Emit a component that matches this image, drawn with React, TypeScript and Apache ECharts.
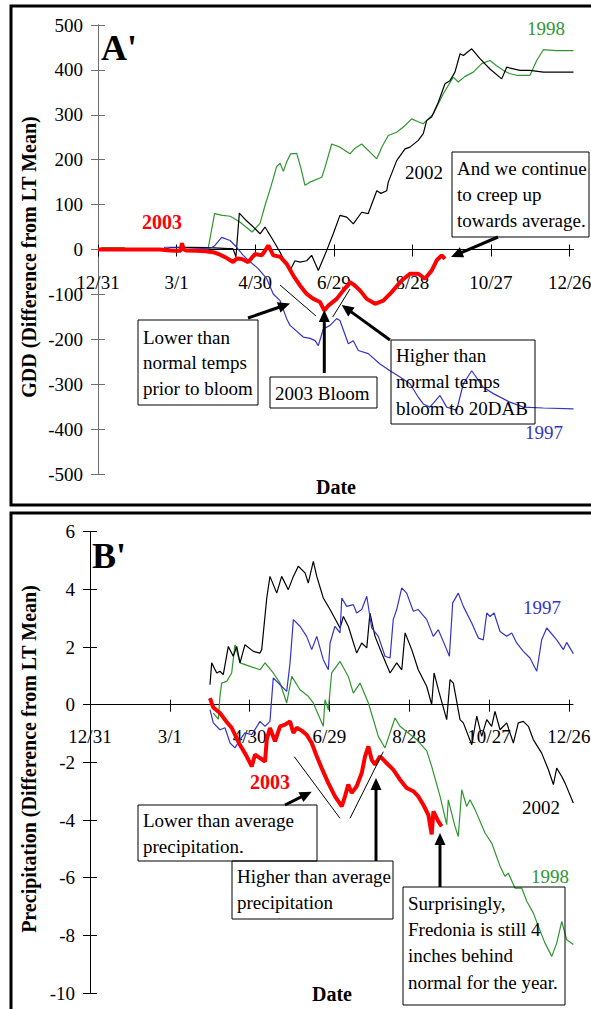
import React, { useEffect, useRef } from "react";
import * as echarts from "echarts";

// ---------- data ----------
const tickDays = [0, 60, 120, 180, 240, 300, 360];
const tickLabels = ["12/31", "3/1", "4/30", "6/29", "8/28", "10/27", "12/26"];
const gddTicks = [-500, 500, 100];
const precipTicks = [-10, 6, 2];

// GDD difference from LT mean: [day, value]
const gdd1998 = [
  [0, 0], [3, 4], [20, 4], [22, 0], [60, 0], [84, 1], [89, 80], [95, 76], [101, 74], [108, 62],
  [113, 50], [117.6, 39], [123.7, 58], [127.5, 98], [132, 140], [136.4, 185], [139, 192], [141.5, 174],
  [144, 195], [147, 213], [151.7, 214], [155, 180], [158, 143], [161.8, 150], [170.8, 161], [173.3, 183],
  [178.4, 235], [184.7, 228], [192.4, 213], [196, 225], [201.3, 235], [207.6, 217], [212.8, 202],
  [217, 230], [221.6, 254], [228, 261], [234, 275], [239.5, 291], [244, 285], [248.3, 280], [256, 302],
  [263.6, 347], [271.2, 384], [275, 373], [280, 385], [286.5, 395], [292.9, 414], [299.2, 421],
  [304, 410], [309.4, 399], [314, 392], [319.6, 388], [325, 388], [329.8, 388], [334.9, 421],
  [340, 445], [350, 443], [363, 443],
];
const gdd2002 = [
  [0, 0], [50, 0], [55, 4], [70, 5], [85, 4], [100, 2], [103, 2], [105.3, -16], [107.9, 81], [113, 65],
  [118.6, 50], [123.7, 35], [127.5, 50], [130, 38], [133.8, 20], [139, -6], [143, -30], [146.6, -47],
  [150.4, -25], [154.2, -28], [159.3, -25], [163.1, -13], [168.2, -47], [174.6, -2], [179.6, 35],
  [184.7, 76], [189.9, 72], [194.9, 57], [201.3, 83], [206.3, 80], [212.8, 131], [216, 125],
  [220.4, 131], [221.6, 150], [228, 198], [234.4, 224], [238.2, 228], [244.5, 243], [248.3, 258],
  [250.9, 287], [254.7, 295], [259.8, 328], [264.9, 369], [268.7, 376], [272.5, 395], [276.4, 436],
  [278.9, 432], [285.3, 447], [291.6, 425], [299.2, 402], [308.2, 380], [312, 406], [322.2, 399],
  [329.8, 399], [340, 395], [363, 395],
];
const gdd1997 = [
  [0, 0], [50, 0], [51, 5], [62, 5], [64, 0], [86, 3], [89.3, 9], [94.4, 27], [100.8, 20], [105.9, 5],
  [110.9, -13], [114.7, -24], [122.1, -42], [128.8, -65], [133.8, -99], [139, -114], [144, -154],
  [146.6, -169], [156.7, -195], [162, -198], [165.7, -203], [168.2, -214], [172, -177], [177.1, -169],
  [182.2, -154], [184.7, -158], [191.1, -210], [194.9, -203], [198.7, -225], [206.3, -232],
  [215.3, -255], [222.9, -270], [230.5, -284], [238.2, -299], [244.5, -329], [248.3, -344],
  [253.4, -351], [261.1, -325], [266.2, -351], [273.8, -358], [278.9, -299], [285.3, -270],
  [294.1, -307], [301.8, -321], [314.5, -340], [324.7, -351], [340, -353], [363, -355],
];
const gdd2003 = [
  [0, 0], [47, 0], [55, -2], [60, -3], [63, -3], [64.1, 14], [65.5, 0], [67.2, -2], [75.5, -3],
  [82, -4], [87.8, -6], [92, -10], [97, -17], [103.1, -28], [106, -20], [109.7, -21], [114.7, -28],
  [119.9, -10], [125, -13], [127, -5], [130, 9], [133.8, -13], [139, -16], [144, -32], [149.1, -58],
  [154.2, -80], [159.3, -99], [164.4, -110], [169.5, -117], [172.8, -136], [175.8, -125],
  [182.2, -110], [187.3, -91], [192.4, -73], [196, -80], [200, -91], [205.1, -110], [211.5, -121],
  [217.8, -114], [224.2, -95], [231.8, -69], [238.2, -54], [244.5, -54], [249.6, -65], [254.7, -47],
  [258.6, -24], [262.4, -13], [264.9, -21],
];

// Precipitation difference from LT mean: [day, value]
const prec1998 = [
  [92.7, -0.29], [96.5, -0.5], [97.7, 0.29], [99, 0.75], [102.8, 0.81], [106.5, 1.1], [109, 2.08],
  [112.8, 1.45], [120.3, 1.33], [127.8, 1.21], [131.6, 1.45], [137.8, 1.1], [142.9, 0.75],
  [147.9, 0.06], [151.7, 0.98], [157.9, 0.52], [164.1, 0.29], [167.9, 0.06], [175.4, -0.75],
  [176.7, 0.17], [179.2, -0.17], [181.7, 1.1], [188, 1.5], [194.2, 0.98], [198, 0.4], [203, 0.75],
  [209.3, 0.06], [216.8, -1.1], [221.8, -1.5], [229.3, -0.46], [233.1, -0.75], [239.3, -0.98],
  [245.6, -1.21], [253.2, -1.6], [256.9, -2.14], [263.2, -3.18], [268.2, -4.16], [269.4, -3.3],
  [274.4, -4.22], [276.9, -4.57], [279.5, -2.95], [283.2, -3.53], [285.7, -3.3], [289.5, -3.64],
  [297, -4.45], [302, -4.8], [308.3, -5.6], [312, -5.95], [314.5, -5.84], [319.5, -6.36],
  [324.6, -6.36], [328.4, -6.82], [333.3, -7.22], [337.1, -7.69], [342.1, -8.27], [347.2, -8.73],
  [350.9, -8.27], [354.7, -7.52], [358.4, -8.15], [363.4, -8.32],
];
const prec2002 = [
  [90.2, 0.69], [91.5, 1.45], [95.3, 1.1], [97.7, 1.16], [100.2, 1.04], [104, 2.02], [107.7, 1.68],
  [110.3, 2.02], [112.8, 1.45], [116.5, 2.08], [122.8, 1.85], [127.8, 1.79], [129.1, 1.91],
  [132.9, 3.7], [135.3, 4.45], [140.4, 3.87], [144.1, 4.45], [149.1, 3.99], [152.9, 4.45],
  [156.6, 4.8], [161.7, 4.57], [164.1, 4.22], [167.9, 4.97], [170.5, 4.45], [175.4, 3.7],
  [180.5, 3.3], [188, 2.66], [190.5, 3.06], [194.2, 2.72], [200.5, 1.79], [204.3, 2.14],
  [208.1, 1.97], [210.5, 3.18], [214.3, 2.37], [219.3, 1.79], [225.6, 1.1], [230.6, 1.45],
  [234.4, 1.21], [236.9, 2.49], [241.9, 1.91], [246.8, 1.21], [253.2, 0.63], [256.9, 0],
  [258.7, 1.1], [261.9, 0.52], [268.2, -0.52], [270.7, 0.87], [273.2, 0.75], [278.2, -0.52],
  [280.7, -0.63], [287, -1.39], [290.8, -0.4], [294.5, -1.1], [298.3, -0.52], [302, -0.75],
  [304.5, -0.23], [308.3, -0.87], [313.3, -0.63], [318.3, -1.33], [322, -0.63], [325.8, -0.58],
  [329.6, -0.75], [333.3, -1.21], [339.6, -1.68], [344.6, -2.25], [348.4, -2.77], [350.9, -2.2],
  [354.7, -2.49], [357.2, -2.72], [363.4, -3.41],
];
const prec1997 = [
  [90.2, -0.17], [92.7, -0.63], [97.7, -0.87], [101.5, -0.8], [105.3, -1.33], [109, -1.5],
  [112.8, -1.21], [116.5, -0.98], [121.6, -1.04], [127.8, -0.58], [131.6, -0.75], [135.3, -0.58],
  [137.8, 0.93], [142.9, 0.69], [147.9, 0.46], [150.4, 1.45], [152.9, 2.95], [157.9, 2.72],
  [162.9, 2.37], [166.7, 1.91], [170.5, 2.37], [175.4, 1.56], [179.2, 1.21], [180.5, 2.14],
  [184.2, 2.72], [188, 2.49], [189.3, 3.7], [193, 3.41], [198, 3.47], [200.5, 3.18], [204.3, 3.3],
  [208.1, 3.76], [211.8, 2.66], [216.8, 2.37], [221.8, 1.68], [225.6, 1.62], [228, 2.95],
  [230.6, 3.3], [234.4, 4.05], [238.1, 3.87], [243.1, 3.24], [246.8, 3.3], [253.2, 2.95],
  [258.1, 2.37], [261.9, 2.6], [268.2, 1.91], [270.2, 1.68], [272.7, 3.53], [276.9, 3.87],
  [280.7, 3.41], [287, 2.83], [292, 2.31], [295.7, 2.25], [298.3, 3.18], [300.8, 3.06],
  [303.8, 3.18], [308.3, 2.54], [313.3, 2.37], [317.1, 2.49], [320.8, 2.14], [325.8, 1.85],
  [330.8, 1.62], [335.9, 1.16], [339.6, 2.25], [343.4, 2.66], [350.9, 2.25], [355.9, 1.91],
  [358.4, 2.16], [363.4, 1.77],
];
const prec2003 = [
  [90.2, 0.23], [92.7, -0.1], [97.7, -0.29], [102.8, -0.6], [106.5, -0.8], [112.8, -1.4],
  [117.8, -1.79], [121.6, -2.14], [124.1, -1.73], [127.8, -1.85], [131.6, -1.97], [132.9, -1.21],
  [135.3, -0.81], [139.1, -1.27], [142.9, -0.75], [146.6, -0.69], [150.4, -0.58], [152.9, -0.98],
  [155.4, -0.8], [159.2, -0.9], [162.9, -1.04], [166.7, -1.33], [170.5, -1.79], [174.2, -2.2],
  [179.2, -2.72], [184.2, -3.18], [189.3, -3.53], [191.7, -3.18], [194.2, -2.77], [196.8, -3.06],
  [200.5, -2.83], [204.3, -2.37], [206.8, -1.79], [209.3, -1.45], [211.8, -1.91], [214.3, -2.08],
  [218.1, -1.79], [221.8, -1.97], [228, -2.25], [233.1, -2.6], [238.1, -2.89], [243.1, -3.0],
  [246.8, -3.18], [250.6, -3.47], [254.4, -3.82], [256.9, -4.5], [258.2, -3.7], [261.9, -4.05],
  [264.4, -4.22],
];

// ---------- layout / styling ----------
const SERIF = '"Liberation Serif", "Times New Roman", serif';
const GREEN = "#2f962f";
const BLUE = "#3434c8";
const RED = "#ff0000";
const BLACK = "#000000";

const GRID_A = { left: 98, top: 25, width: 475.5, height: 449 };
const GRID_B = { left: 90, top: 531.7, width: 482.8, height: 461.3 };

function zeroY(g: any, t: number[]) {
  return g.top + (t[1] / (t[1] - t[0])) * g.height;
}

function txt(x: number, y: number, text: string, o: any = {}) {
  return {
    type: "text",
    x,
    y,
    rotation: o.rotation || 0,
    z: 20,
    style: {
      text,
      fill: o.color || "#000",
      fontFamily: SERIF,
      fontSize: o.size || 19,
      fontWeight: o.bold ? "bold" : "normal",
      align: o.align || "left",
      verticalAlign: "middle",
    },
  };
}

function box(x1: number, y1: number, x2: number, y2: number) {
  return {
    type: "rect",
    z: 20,
    shape: { x: x1, y: y1, width: x2 - x1, height: y2 - y1 },
    style: { fill: "none", stroke: "#000", lineWidth: 1 },
  };
}

function seg(x1: number, y1: number, x2: number, y2: number, w = 1) {
  return {
    type: "line",
    z: 20,
    shape: { x1, y1, x2, y2 },
    style: { stroke: "#000", lineWidth: w },
  };
}

function arrow(x1: number, y1: number, x2: number, y2: number) {
  const dx = x2 - x1;
  const dy = y2 - y1;
  const L = Math.hypot(dx, dy);
  const ux = dx / L;
  const uy = dy / L;
  const head = 12;
  const hw = 5.5;
  const bx = x2 - ux * head;
  const by = y2 - uy * head;
  const px = -uy;
  const py = ux;
  return [
    seg(x1, y1, bx + ux * 2, by + uy * 2, 3),
    {
      type: "polygon",
      z: 20,
      shape: { points: [[x2, y2], [bx + px * hw, by + py * hw], [bx - px * hw, by - py * hw]] },
      style: { fill: "#000" },
    },
  ];
}

function lines(x: number, yFirst: number, step: number, rows: string[]) {
  return rows.map((r, i) => txt(x, yFirst + i * step, r));
}

function xAxes(gridIndex: number, g: any, t: number[], margin: number) {
  const zy = zeroY(g, t);
  const base = {
    type: "value",
    gridIndex,
    min: 0,
    max: 363,
    splitLine: { show: false },
    axisLine: { show: true, onZero: false, lineStyle: { color: "#000", width: 1 } },
  };
  return [
    {
      ...base,
      position: "bottom",
      offset: zy - (g.top + g.height),
      axisTick: { show: true, customValues: tickDays, length: 7, lineStyle: { color: "#000", width: 1 } },
      axisLabel: {
        show: true,
        customValues: tickDays,
        margin,
        color: "#000",
        fontFamily: SERIF,
        fontSize: 19,
        formatter: (v: number) => {
          const i = tickDays.indexOf(Math.round(v));
          return i >= 0 ? tickLabels[i] : "";
        },
      },
    },
    {
      ...base,
      position: "top",
      offset: g.top - zy,
      axisTick: { show: true, customValues: tickDays, length: 5, lineStyle: { color: "#000", width: 1 } },
      axisLabel: { show: false },
    },
  ];
}

function yAxes(gridIndex: number, g: any, t: number[], color: string) {
  const base = {
    type: "value",
    gridIndex,
    min: t[0],
    max: t[1],
    interval: t[2],
    splitLine: { show: false },
    axisLine: { show: true, onZero: false, lineStyle: { color, width: 1 } },
  };
  return [
    {
      ...base,
      position: "left",
      axisTick: { show: true, length: 7, lineStyle: { color, width: 1 } },
      axisLabel: { show: true, margin: 15, color: "#000", fontFamily: SERIF, fontSize: 19 },
    },
    {
      ...base,
      position: "right",
      offset: -g.width,
      axisTick: { show: true, length: 7, lineStyle: { color, width: 1 } },
      axisLabel: { show: false },
    },
  ];
}

function line(data: number[][], color: string, width: number, xi: number, yi: number, z = 2) {
  return {
    type: "line",
    data,
    xAxisIndex: xi,
    yAxisIndex: yi,
    showSymbol: false,
    symbol: "none",
    z,
    lineStyle: { color, width },
    itemStyle: { color },
  };
}

export default function App() {
  const ref = useRef<HTMLDivElement>(null);
  useEffect(() => {
    if (!ref.current) return;
    const chart = echarts.init(ref.current, undefined, { renderer: "svg" });

    const graphics: any[] = [
      // outer frames
      {
        type: "rect",
        z: 1,
        shape: { x: 11, y: 6, width: 600, height: 499 },
        style: { fill: "none", stroke: "#000", lineWidth: 3 },
      },
      {
        type: "rect",
        z: 1,
        shape: { x: 11, y: 513, width: 600, height: 520 },
        style: { fill: "none", stroke: "#000", lineWidth: 3 },
      },
      // panel A texts
      txt(101, 48, "A'", { size: 36, bold: true }),
      txt(527, 28, "1998", { color: GREEN }),
      txt(405, 172, "2002"),
      txt(142, 222, "2003", { color: RED, bold: true, size: 20 }),
      txt(525, 432, "1997", { color: BLUE }),
      txt(336, 487, "Date", { bold: true, size: 20, align: "center" }),
      txt(29, 257, "GDD (Difference from LT Mean)", {
        bold: true,
        size: 20,
        align: "center",
        rotation: Math.PI / 2,
      }),
      box(138, 320, 258, 405),
      ...lines(143, 337, 25.8, ["Lower than", "normal temps", "prior to bloom"]),
      box(270, 377, 377, 408),
      txt(275, 393, "2003 Bloom"),
      box(391, 340, 535, 424),
      ...lines(396, 355, 26.6, ["Higher than", "normal temps", "bloom to 20DAB"]),
      box(452, 152, 589, 237),
      ...lines(457, 168.5, 26.2, ["And we continue", "to creep up", "towards average."]),
      ...arrow(248, 318, 290, 303.5),
      ...arrow(324.3, 373, 324.3, 310),
      ...arrow(390, 340, 341.7, 305),
      ...arrow(498, 237, 451, 257),
      seg(280, 285, 316, 316),
      seg(332.7, 317, 350, 289),
      // panel B texts
      txt(92, 556, "B'", { size: 36, bold: true }),
      txt(523, 607, "1997", { color: BLUE }),
      txt(522, 807, "2002"),
      txt(531, 876, "1998", { color: GREEN }),
      txt(250, 782, "2003", { color: RED, bold: true, size: 20 }),
      txt(332, 994, "Date", { bold: true, size: 20, align: "center" }),
      txt(28.5, 759, "Precipitation (Difference from LT Mean)", {
        bold: true,
        size: 20,
        align: "center",
        rotation: Math.PI / 2,
      }),
      box(138, 805, 317, 861),
      ...lines(143, 820, 26.7, ["Lower than average", "precipitation."]),
      box(232, 861, 393, 919),
      ...lines(237, 876, 26.7, ["Higher than average", "precipitation"]),
      box(403, 887, 565, 1005),
      ...lines(408, 903.3, 26.3, ["Surprisingly,", "Fredonia is still 4", "inches behind", "normal for the year."]),
      ...arrow(285, 805, 311.7, 791.7),
      ...arrow(376, 861, 376, 778),
      ...arrow(440, 887, 440, 833),
      seg(294.3, 756.7, 340, 818.3),
      seg(350, 818.3, 383.3, 751.7),
    ];

    chart.setOption({
      animation: false,
      backgroundColor: "#ffffff",
      textStyle: { fontFamily: SERIF },
      grid: [
        { ...GRID_A, containLabel: false, outerBoundsMode: "none" },
        { ...GRID_B, containLabel: false, outerBoundsMode: "none" },
      ],
      xAxis: [...xAxes(0, GRID_A, gddTicks, 23), ...xAxes(1, GRID_B, precipTicks, 22)],
      yAxis: [...yAxes(0, GRID_A, gddTicks, "#6e6e6e"), ...yAxes(1, GRID_B, precipTicks, "#000")],
      series: [
        line(gdd1998, GREEN, 1.2, 0, 0),
        line(gdd2002, BLACK, 1.2, 0, 0),
        line(gdd1997, BLUE, 1.2, 0, 0),
        line(gdd2003, RED, 4, 0, 0, 3),
        line(prec1998, GREEN, 1.2, 2, 2),
        line(prec2002, BLACK, 1.2, 2, 2),
        line(prec1997, BLUE, 1.2, 2, 2),
        line(prec2003, RED, 4, 2, 2, 3),
      ],
      graphic: graphics,
    });
    return () => chart.dispose();
  }, []);
  return (
    <div
      ref={ref}
      style={{ position: "absolute", left: 0, top: 0, width: 591, height: 1009, background: "#fff" }}
    />
  );
}
